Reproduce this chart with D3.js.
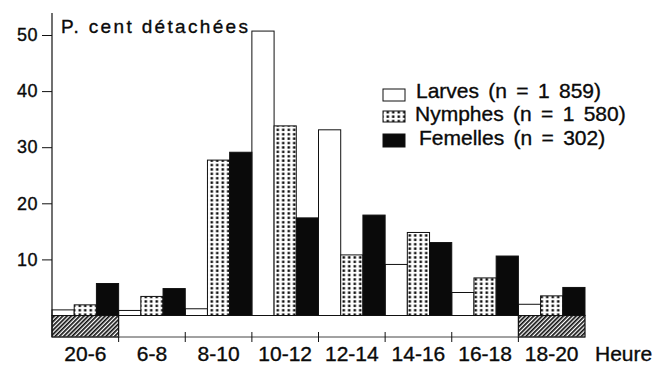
<!DOCTYPE html>
<html>
<head>
<meta charset="utf-8">
<script src="https://cdn.jsdelivr.net/npm/d3@7/dist/d3.min.js"></script>
<style>
  html, body { margin: 0; padding: 0; background: #fff; }
  svg { display: block; }
  text { font-family: "Liberation Sans", Arial, Helvetica, sans-serif; fill: #0a0a0a; stroke: #0a0a0a; stroke-width: 0.35px; }
</style>
</head>
<body>
<svg id="chart" width="657" height="366"></svg>
<script>
// ---- data ----
const categories = ["20-6", "6-8", "8-10", "10-12", "12-14", "14-16", "16-18", "18-20"];
const larves   = [1.0, 0.9, 1.2, 50.7, 33.1, 9.1, 4.1, 2.0];
const nymphes  = [1.9, 3.4, 27.7, 33.8, 10.8, 14.8, 6.7, 3.5];
const femelles = [5.7, 4.8, 29.1, 17.4, 17.9, 13.0, 10.6, 5.0];
const seriesNames = ["Larves (n = 1 859)", "Nymphes (n = 1 580)", "Femelles (n = 302)"];
const yTicks = [10, 20, 30, 40, 50];
const nightBands = ["20-6", "18-20"];
const yTitle = "P. cent détachées";
const xTitle = "Heure";

const series = [larves, nymphes, femelles];

const svg = d3.select("#chart");
const defs = svg.append("defs");

// dotted pattern
const dots = defs.append("pattern").attr("id", "dots")
  .attr("patternUnits", "userSpaceOnUse").attr("width", 5.5).attr("height", 4.4);
dots.append("rect").attr("width", 5.5).attr("height", 4.4).attr("fill", "#fff");
dots.append("rect").attr("x", 1.5).attr("y", 1.1).attr("width", 2.5).attr("height", 2.3).attr("fill", "#0a0a0a");

// hatch pattern
const hatch = defs.append("pattern").attr("id", "hatch")
  .attr("patternUnits", "userSpaceOnUse").attr("width", 3).attr("height", 3)
  .attr("patternTransform", "rotate(45)");
hatch.append("rect").attr("width", 3).attr("height", 3).attr("fill", "#fff");
hatch.append("rect").attr("x", 0).attr("y", 0).attr("width", 1.7).attr("height", 3).attr("fill", "#111");

const fills = ["#fff", "url(#dots)", "#0a0a0a"];

const mLeft = 52, mRight = 585, mTop = 13;
const y0 = 315.5, bottomLine = 337;

const x = d3.scaleBand().domain(categories).range([mLeft, mRight]).padding(0);
const xs = d3.scaleBand().domain([0, 1, 2]).range([0, x.bandwidth()]).padding(0);
const y = d3.scaleLinear().domain([0, 50]).range([y0, 35]);

// night hatched boxes
svg.append("g").selectAll("rect").data(nightBands).join("rect")
  .attr("x", d => x(d)).attr("y", y0)
  .attr("width", x.bandwidth()).attr("height", bottomLine - y0)
  .attr("fill", "url(#hatch)").attr("stroke", "#111").attr("stroke-width", 1.2);

// baseline
svg.append("line").attr("x1", mLeft).attr("x2", mRight).attr("y1", y(0)).attr("y2", y(0))
  .attr("stroke", "#777").attr("stroke-width", 1);
// bottom line
svg.append("line").attr("x1", mLeft).attr("x2", mRight).attr("y1", bottomLine).attr("y2", bottomLine)
  .attr("stroke", "#444").attr("stroke-width", 1);

// bars
const g = svg.append("g");
series.forEach((vals, si) => {
  g.append("g").selectAll("rect").data(vals).join("rect")
    .attr("x", (d, i) => x(categories[i]) + xs(si))
    .attr("y", d => y(d))
    .attr("width", xs.bandwidth())
    .attr("height", d => y(0) - y(d))
    .attr("fill", fills[si])
    .attr("stroke", "#111").attr("stroke-width", 1);
});

// x category boundary ticks
const bounds = categories.slice(1);
svg.append("g").selectAll("line").data(bounds).join("line")
  .attr("x1", d => x(d)).attr("x2", d => x(d))
  .attr("y1", d => (d === "6-8" || d === "18-20") ? bottomLine : bottomLine - 5)
  .attr("y2", bottomLine + 5)
  .attr("stroke", "#111").attr("stroke-width", 1);

// x labels
svg.append("g").selectAll("text").data(categories).join("text")
  .attr("x", d => x(d) + x.bandwidth() / 2)
  .attr("y", 361)
  .attr("text-anchor", "middle")
  .attr("font-size", 21)
  .text(d => d);
svg.append("text").attr("x", 595).attr("y", 361).attr("font-size", 21).text(xTitle);

// y axis
const yAxis = d3.axisLeft(y).tickValues(yTicks).tickSize(10).tickPadding(4).tickFormat(d3.format("d"));
const ya = svg.append("g").attr("transform", `translate(${mLeft},0)`).call(yAxis);
ya.select(".domain").remove();
ya.selectAll(".tick line").attr("stroke", "#111");
ya.selectAll(".tick text").attr("font-size", 18).attr("letter-spacing", 0.5)
  .style("font-family", '"Liberation Sans", Arial, sans-serif').attr("fill", "#0a0a0a");
svg.append("line").attr("x1", mLeft).attr("x2", mLeft).attr("y1", mTop).attr("y2", bottomLine)
  .attr("stroke", "#111").attr("stroke-width", 1.2);

// y title
svg.append("text").attr("x", 61).attr("y", 33).attr("font-size", 19)
  .attr("textLength", 187).attr("lengthAdjust", "spacing").text(yTitle);

// legend
const legY = [89, 111, 134];
const legH = [12, 11, 13];
const legTextY = [97.5, 121, 145];
const legTextX = [416, 415, 419];
const leg = svg.append("g");
seriesNames.forEach((name, i) => {
  leg.append("rect").attr("x", 383).attr("y", legY[i]).attr("width", 22).attr("height", legH[i])
    .attr("fill", fills[i]).attr("stroke", "#111").attr("stroke-width", 1);
  leg.append("text").attr("x", legTextX[i]).attr("y", legTextY[i]).attr("font-size", 21)
    .attr("word-spacing", 3.5).text(name);
});
</script>
</body>
</html>
